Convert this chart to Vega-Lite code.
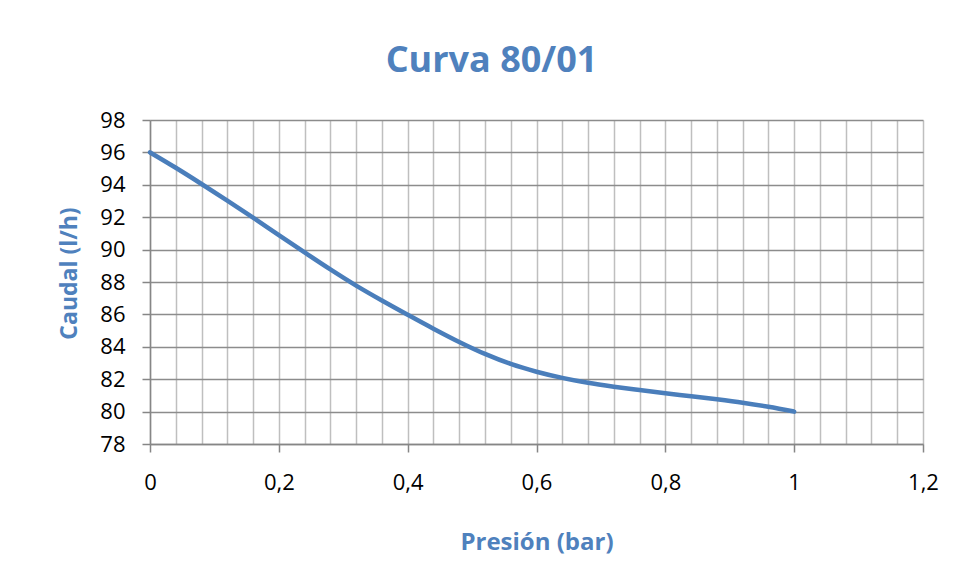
{
  "$schema": "https://vega.github.io/schema/vega-lite/v6.json",
  "autosize": "none",
  "width": 773,
  "height": 324,
  "padding": {"left": 150, "top": 120, "right": 33, "bottom": 137},
  "background": "white",
  "config": {"view": {"stroke": null}},
  "title": {
    "text": "Curva 80/01",
    "font": "Open Sans",
    "fontSize": 36,
    "fontWeight": "bold",
    "color": "#4F81BD",
    "anchor": "middle",
    "frame": "group",
    "dx": -45,
    "offset": 29
  },
  "data": {
    "values": [
      {"p": 0.0, "q": 96.0},
      {"p": 0.04, "q": 95.05},
      {"p": 0.08, "q": 94.05},
      {"p": 0.12, "q": 93.02},
      {"p": 0.16, "q": 91.97},
      {"p": 0.2, "q": 90.9},
      {"p": 0.24, "q": 89.83},
      {"p": 0.28, "q": 88.78},
      {"p": 0.32, "q": 87.78},
      {"p": 0.36, "q": 86.86},
      {"p": 0.4, "q": 85.98},
      {"p": 0.44, "q": 85.12},
      {"p": 0.48, "q": 84.3},
      {"p": 0.52, "q": 83.56},
      {"p": 0.56, "q": 82.94},
      {"p": 0.6, "q": 82.46},
      {"p": 0.64, "q": 82.08},
      {"p": 0.68, "q": 81.78},
      {"p": 0.72, "q": 81.54},
      {"p": 0.76, "q": 81.33},
      {"p": 0.8, "q": 81.13},
      {"p": 0.84, "q": 80.95},
      {"p": 0.88, "q": 80.76},
      {"p": 0.92, "q": 80.55},
      {"p": 0.96, "q": 80.3},
      {"p": 1.0, "q": 80.0}
    ]
  },
  "mark": {"type": "line", "color": "#4A7EBB", "strokeWidth": 4.5, "interpolate": "monotone", "strokeCap": "round"},
  "encoding": {
    "x": {
      "field": "p",
      "type": "quantitative",
      "scale": {"domain": [0, 1.2], "nice": false, "zero": false},
      "axis": {
        "values": [0, 0.04, 0.08, 0.12, 0.16, 0.2, 0.24, 0.28, 0.32, 0.36, 0.4, 0.44, 0.48, 0.52, 0.56, 0.6, 0.64, 0.68, 0.72, 0.76, 0.8, 0.84, 0.88, 0.92, 0.96, 1.0, 1.04, 1.08, 1.12, 1.16, 1.2],
        "labelExpr": "abs(datum.value*5 - round(datum.value*5)) < 0.001 ? replace(format(datum.value, '~g'), '.', ',') : ''",
        "labelOverlap": false,
        "labelBound": false,
        "labelFlush": false,
        "labelFont": "Open Sans",
        "labelFontSize": 22,
        "labelColor": "#000000",
        "labelPadding": 20,
        "tickSize": 8,
        "tickColor": "#868686",
        "tickWidth": 1.5,
        "tickOpacity": {"condition": {"test": "abs(datum.value*5 - round(datum.value*5)) < 0.001", "value": 1}, "value": 0},
        "domainColor": "#868686",
        "domainWidth": 1.5,
        "grid": true,
        "gridColor": "#BFBFBF",
        "gridWidth": 1.5,
        "title": "Presión (bar)",
        "titleFont": "Open Sans",
        "titleFontSize": 24,
        "titleFontWeight": "bold",
        "titleColor": "#4F81BD",
        "titlePadding": 37
      }
    },
    "y": {
      "field": "q",
      "type": "quantitative",
      "scale": {"domain": [78, 98], "nice": false, "zero": false},
      "axis": {
        "values": [78, 80, 82, 84, 86, 88, 90, 92, 94, 96, 98],
        "labelFont": "Open Sans",
        "labelFontSize": 22,
        "labelColor": "#000000",
        "labelPadding": 17,
        "tickSize": 8,
        "tickColor": "#868686",
        "tickWidth": 1.5,
        "domainColor": "#868686",
        "domainWidth": 1.5,
        "grid": true,
        "gridColor": "#8C8C8C",
        "gridWidth": 1.5,
        "title": "Caudal (l/h)",
        "titleFont": "Open Sans",
        "titleFontSize": 23,
        "titleFontWeight": "bold",
        "titleColor": "#4F81BD",
        "titlePadding": 18,
        "titleY": 153
      }
    }
  }
}
